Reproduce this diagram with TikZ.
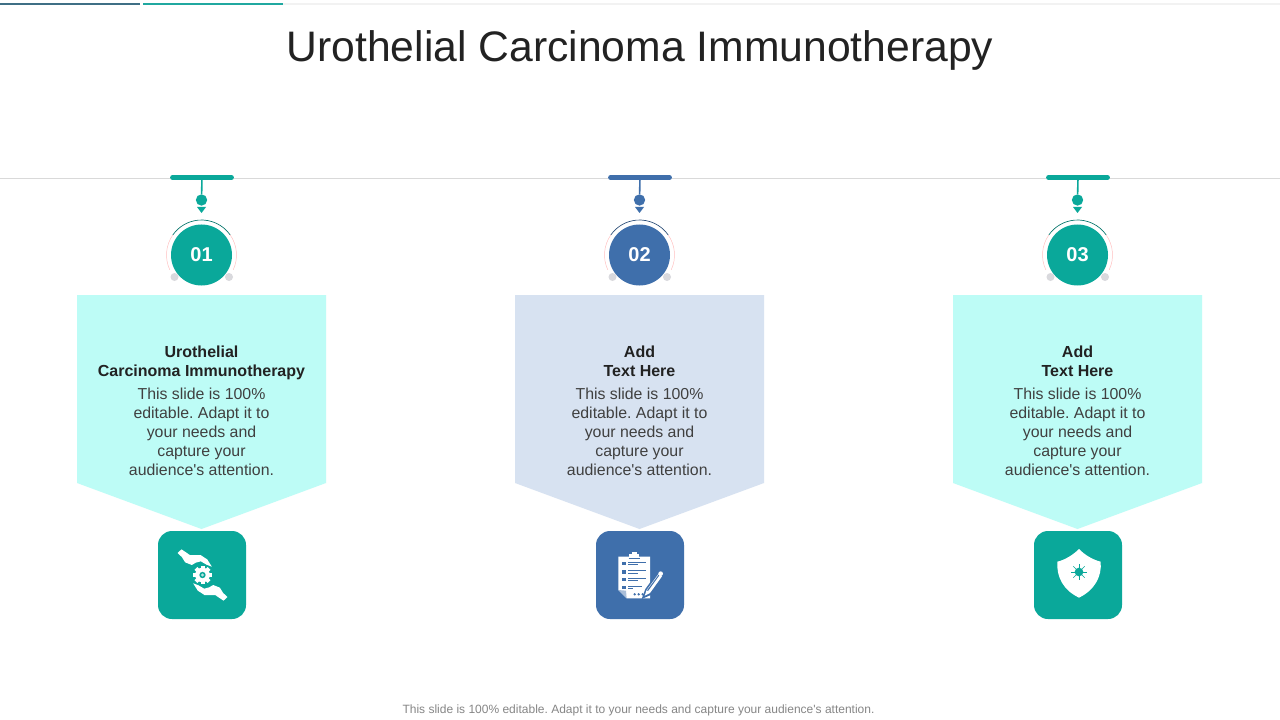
\documentclass[tikz,border=0pt]{standalone}
\usepackage{fontspec}
\defaultfontfeatures[\rmfamily]{}
\setmainfont{Liberation Sans}
\frenchspacing
\definecolor{teal1}{HTML}{0AA89A}
\definecolor{blue1}{HTML}{3F6FAB}
\definecolor{cyanp}{HTML}{BDFCF6}
\definecolor{bluep}{HTML}{D7E2F1}
\definecolor{gline}{HTML}{D9D9D9}
\definecolor{gdot}{HTML}{D9D9DD}
\definecolor{ink}{HTML}{222222}
\definecolor{body}{HTML}{404040}
\definecolor{stripa}{HTML}{3F6F85}
\definecolor{stripb}{HTML}{20A8A0}
\tikzset{
  panelshape/.style={draw=none,fill=#1},
  titletext/.style={font=\fontsize{32}{38}\selectfont,text=ink,inner sep=0pt},
  numtext/.style={font=\fontsize{15}{18}\selectfont\bfseries,text=white,inner sep=0pt},
  headtext/.style={font=\fontsize{12}{14.25}\selectfont\bfseries,text=ink,align=center,inner sep=0pt,anchor=north},
  bodytext/.style={font=\fontsize{11.9}{14.25}\selectfont,text=body,align=center,inner sep=0pt,anchor=north},
  foottext/.style={font=\fontsize{9}{11}\selectfont,text=gray!95,inner sep=0pt},
  stem/.style={line width=1.2pt},
}
\newcommand{\colblock}[6]{%
 \draw[#3,line width=3.6pt,line cap=round] (#2-29,177.5) -- (#2+30,177.5);
 \coordinate (bar#1) at (#2+0.5,177.5);
 \node[circle,fill=#3,minimum size=8.5pt,inner sep=0pt] (dot#1) at (#2,200) {};
 \draw[#3,stem] (bar#1) -- (dot#1);
 \fill[#3] (#2-4.5,207) -- (#2+4.5,207) -- (#2,213) -- cycle;
 \draw[#3!70!black,line width=0.5pt] (#2,255) ++(-35:35) arc (-35:-145:35);
 \draw[red!25,line width=0.35pt] (#2,255) ++(-145:35) arc (-145:-205:35);
 \draw[red!25,line width=0.35pt] (#2,255) ++(25:35) arc (25:-35:35);
 \fill[gdot] (#2-27,277) circle (4);
 \fill[gdot] (#2+27.5,277) circle (4);
 \node[circle,fill=#3,minimum size=45.75pt,inner sep=0pt,numtext] (num#1) at (#2,255) {#6};
 \fill[panelshape=#4] (#2-124.5,295) -- (#2+124.5,295) -- (#2+124.5,483) -- (#2,529) -- (#2-124.5,483) -- cycle;
 \node[headtext] (head#1) at (#2,345.5) {#5};
 \node[bodytext] (body#1) at (#2,387.5) {This slide is 100\%\\editable. Adapt it to\\your needs and\\capture your\\audience's attention.};
 \fill[#3,rounded corners=10.5] (#2-43.5,531) rectangle (#2+44.5,619);
}
\begin{document}
\begin{tikzpicture}[x=0.75pt,y=-0.75pt,line join=round]
\useasboundingbox (0,0) rectangle (1280,720);
\fill[white] (0,0) rectangle (1280,720);
\fill[gray!10] (283,3) rectangle (1280,5);
\fill[stripa] (0,3) rectangle (140,5);
\fill[stripb] (143,3) rectangle (283,5);
\node[titletext] (title) at (640,50) {Urothelial Carcinoma Immunotherapy};
\draw[gline,line width=0.75pt] (0,178.5) -- (1280,178.5);
\colblock{a}{201.5}{teal1}{cyanp}{Urothelial\\Carcinoma Immunotherapy}{01}
\colblock{b}{639.5}{blue1}{bluep}{Add\\Text Here}{02}
\colblock{c}{1077.5}{teal1}{cyanp}{Add\\Text Here}{03}
\begin{scope}[shift={(202.5,575)},x=0.25pt,y=-0.25pt]
 \foreach \r in {0,180}{
 \fill[white,rotate=\r] (-75,-66) -- (-63,-77) -- (-38,-60) -- (-6,-60) -- (14,-47) -- (28,-25) -- (12,-31) -- (-5,-41) -- (-20,-37) -- (-32,-30) -- (-52,-38) -- (-62,-54) -- cycle;
 }
 \fill[white] (0,0) circle (22);
 \foreach \a in {0,45,...,315}{\fill[white,rotate=\a] (-6,-28) rectangle (6,-18);}
 \fill[teal1] (0,0) circle (9.5);
 \fill[white!70!teal1] (0,0) circle (5);
\end{scope}
\begin{scope}[shift={(640,575)},x=0.25pt,y=-0.25pt]
 \fill[white] (-65,-55) -- (30,-55) -- (30,70) -- (-40,70) -- (-65,45) -- cycle;
 \fill[white] (-32,-50) rectangle (-2,-63);
 \fill[white] (-24,-63) rectangle (-10,-70);
 \draw[blue1,line width=0.5pt] (-34,-50) -- (0,-50);
 \fill[blue1!45] (-65,45) -- (-42,47) -- (-40,70) -- cycle;
 \foreach \yy/\w in {-35/18,-9/18,13/18,37/5}{
  \fill[blue1] (-54,\yy-5) rectangle (-42,\yy+5);
  \fill[blue1] (-36,\yy-5) rectangle (\w,\yy-2.5);
  \fill[blue1] (-36,\yy+2) rectangle (\w-25,\yy+4.5);
 }
 \foreach \xx in {-16,-4,8}{\fill[blue1] (\xx,58) circle (4);}
 \fill[blue1] (5,72) -- (16,42) -- (54,-10) -- (72,4) -- (32,60) -- cycle;
 \fill[white] (14,62) -- (20,45) -- (56,-4) -- (66,4) -- (30,54) -- cycle;
 \fill[blue1] (21,46) -- (56,-1) -- (58,1) -- (24,48) -- cycle;
 \fill[white] (62,-4) circle (7);
\end{scope}
\begin{scope}[shift={(1078,575)},x=0.25pt,y=-0.25pt]
 \fill[white] (3,-78) .. controls (-15,-60) and (-40,-45) .. (-62,-40) .. controls (-65,5) and (-45,45) .. (3,68) .. controls (50,45) and (72,5) .. (68,-40) .. controls (46,-45) and (20,-60) .. (3,-78) -- cycle;
 \fill[teal1] (3,-9) circle (13);
 \foreach \a in {0,45,...,315}{
  \draw[teal1,line width=0.35pt,rotate around={\a:(3,-9)}] (3,-22) -- (3,-33);
 }
\end{scope}
\node[foottext] (foot) at (638.5,710.5) {This slide is 100\% editable. Adapt it to your needs and capture your audience's attention.};
\end{tikzpicture}
\end{document}
